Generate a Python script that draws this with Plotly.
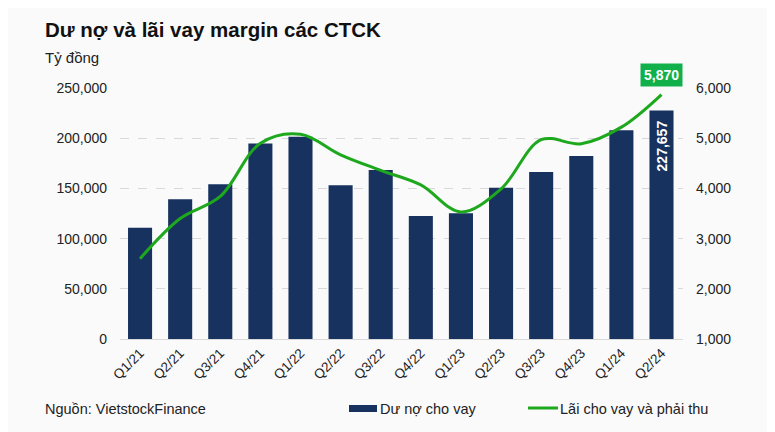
import plotly.graph_objects as go

quarters = ["Q1/21", "Q2/21", "Q3/21", "Q4/21", "Q1/22", "Q2/22", "Q3/22",
            "Q4/22", "Q1/23", "Q2/23", "Q3/23", "Q4/23", "Q1/24", "Q2/24"]
du_no = [110900, 139200, 154100, 194800, 201400, 153100, 168300,
         122600, 125200, 150700, 166300, 182200, 208000, 227657]
lai_vay = [2600, 3400, 3840, 4900, 5080, 4670, 4360,
           4070, 3530, 3990, 4970, 4890, 5220, 5870]
left_ticks = [0, 50000, 100000, 150000, 200000, 250000]
right_ticks = [1000, 2000, 3000, 4000, 5000, 6000]

NAVY = "#17325e"
GREEN = "#1ea81e"
FONT = "Liberation Sans, Arial, sans-serif"
TXT = "#222222"

# figure is placed by the page with an 8px body margin, so size it to fill the window
W, H = 767, 424
ML, MR, MT, MB = 112, 92, 80, 93
PW, PH = W - ML - MR, H - MT - MB


def px(xf):
    return (xf - ML) / PW


def py(yf):
    return (H - MB - yf) / PH


fig = go.Figure()
fig.add_trace(go.Bar(x=quarters, y=du_no, name="Dư nợ cho vay",
                     marker=dict(color=NAVY, line=dict(width=0)),
                     width=0.6, yaxis="y", showlegend=False))
fig.add_trace(go.Scatter(x=quarters, y=lai_vay, name="Lãi cho vay và phải thu",
                         mode="lines", line=dict(color=GREEN, width=3, shape="spline", smoothing=1.0),
                         yaxis="y2", showlegend=False, cliponaxis=False))

# value labels
fig.add_annotation(x=quarters[-1], y=du_no[-1], yref="y", text="<b>%s</b>" % f"{du_no[-1]:,}",
                   textangle=-90, showarrow=False, yanchor="top", yshift=-8,
                   font=dict(color="white", size=14, family=FONT))
fig.add_annotation(x=quarters[-1], y=lai_vay[-1], yref="y2", text="<b>%s</b>" % f"{lai_vay[-1]:,}",
                   showarrow=False, yanchor="bottom", yshift=8, bgcolor="#12b04a",
                   borderpad=3, font=dict(color="white", size=14, family=FONT))

# title and notes (page coords minus 8px body margin)
fig.add_annotation(xref="paper", yref="paper", x=px(35), y=py(22), xanchor="left", yanchor="middle",
                   text="<b>Dư nợ và lãi vay margin các CTCK</b>", showarrow=False,
                   font=dict(size=20.5, color="#111111", family=FONT))
fig.add_annotation(xref="paper", yref="paper", x=px(35), y=py(49), xanchor="left", yanchor="middle",
                   text="Tỷ đồng", showarrow=False, font=dict(size=15, color=TXT, family=FONT))
fig.add_annotation(xref="paper", yref="paper", x=px(35), y=py(401), xanchor="left", yanchor="middle",
                   text="Nguồn: VietstockFinance", showarrow=False,
                   font=dict(size=14.5, color=TXT, family=FONT))

# custom legend
fig.add_shape(type="rect", xref="paper", yref="paper", x0=px(341), x1=px(369), y0=py(404), y1=py(397),
              fillcolor=NAVY, line=dict(width=0))
fig.add_annotation(xref="paper", yref="paper", x=px(370), y=py(401), xanchor="left", yanchor="middle",
                   text="Dư nợ cho vay", showarrow=False, font=dict(size=14.5, color=TXT, family=FONT))
fig.add_shape(type="line", xref="paper", yref="paper", x0=px(520), x1=px(550), y0=py(400), y1=py(400),
              line=dict(color=GREEN, width=3))
fig.add_annotation(xref="paper", yref="paper", x=px(550), y=py(401), xanchor="left", yanchor="middle",
                   text="Lãi cho vay và phải thu", showarrow=False, font=dict(size=14.5, color=TXT, family=FONT))

fig.update_layout(
    width=W, height=H,
    margin=dict(l=ML, r=MR, t=MT, b=MB, autoexpand=False),
    paper_bgcolor="#fafafa", plot_bgcolor="#fafafa",
    font=dict(family=FONT, size=14, color=TXT),
    xaxis=dict(tickangle=-45, showgrid=False, showline=True, linecolor="#d9d9d9", linewidth=1,
               ticks="", tickfont=dict(size=13.5, color=TXT)),
    yaxis=dict(range=[0, 250000], tickvals=left_ticks, tickformat=",", showgrid=True,
               gridcolor="#d9d9d9", griddash="dash", zeroline=False, showline=False,
               ticks="", ticklabelstandoff=12, tickfont=dict(size=14, color=TXT)),
    yaxis2=dict(range=[1000, 6000], tickvals=right_ticks, tickformat=",", overlaying="y", side="right",
                showgrid=False, zeroline=False, showline=False, ticks="", ticklabelstandoff=12,
                tickfont=dict(size=14, color=TXT)),
)

fig.write_html("out.html")
